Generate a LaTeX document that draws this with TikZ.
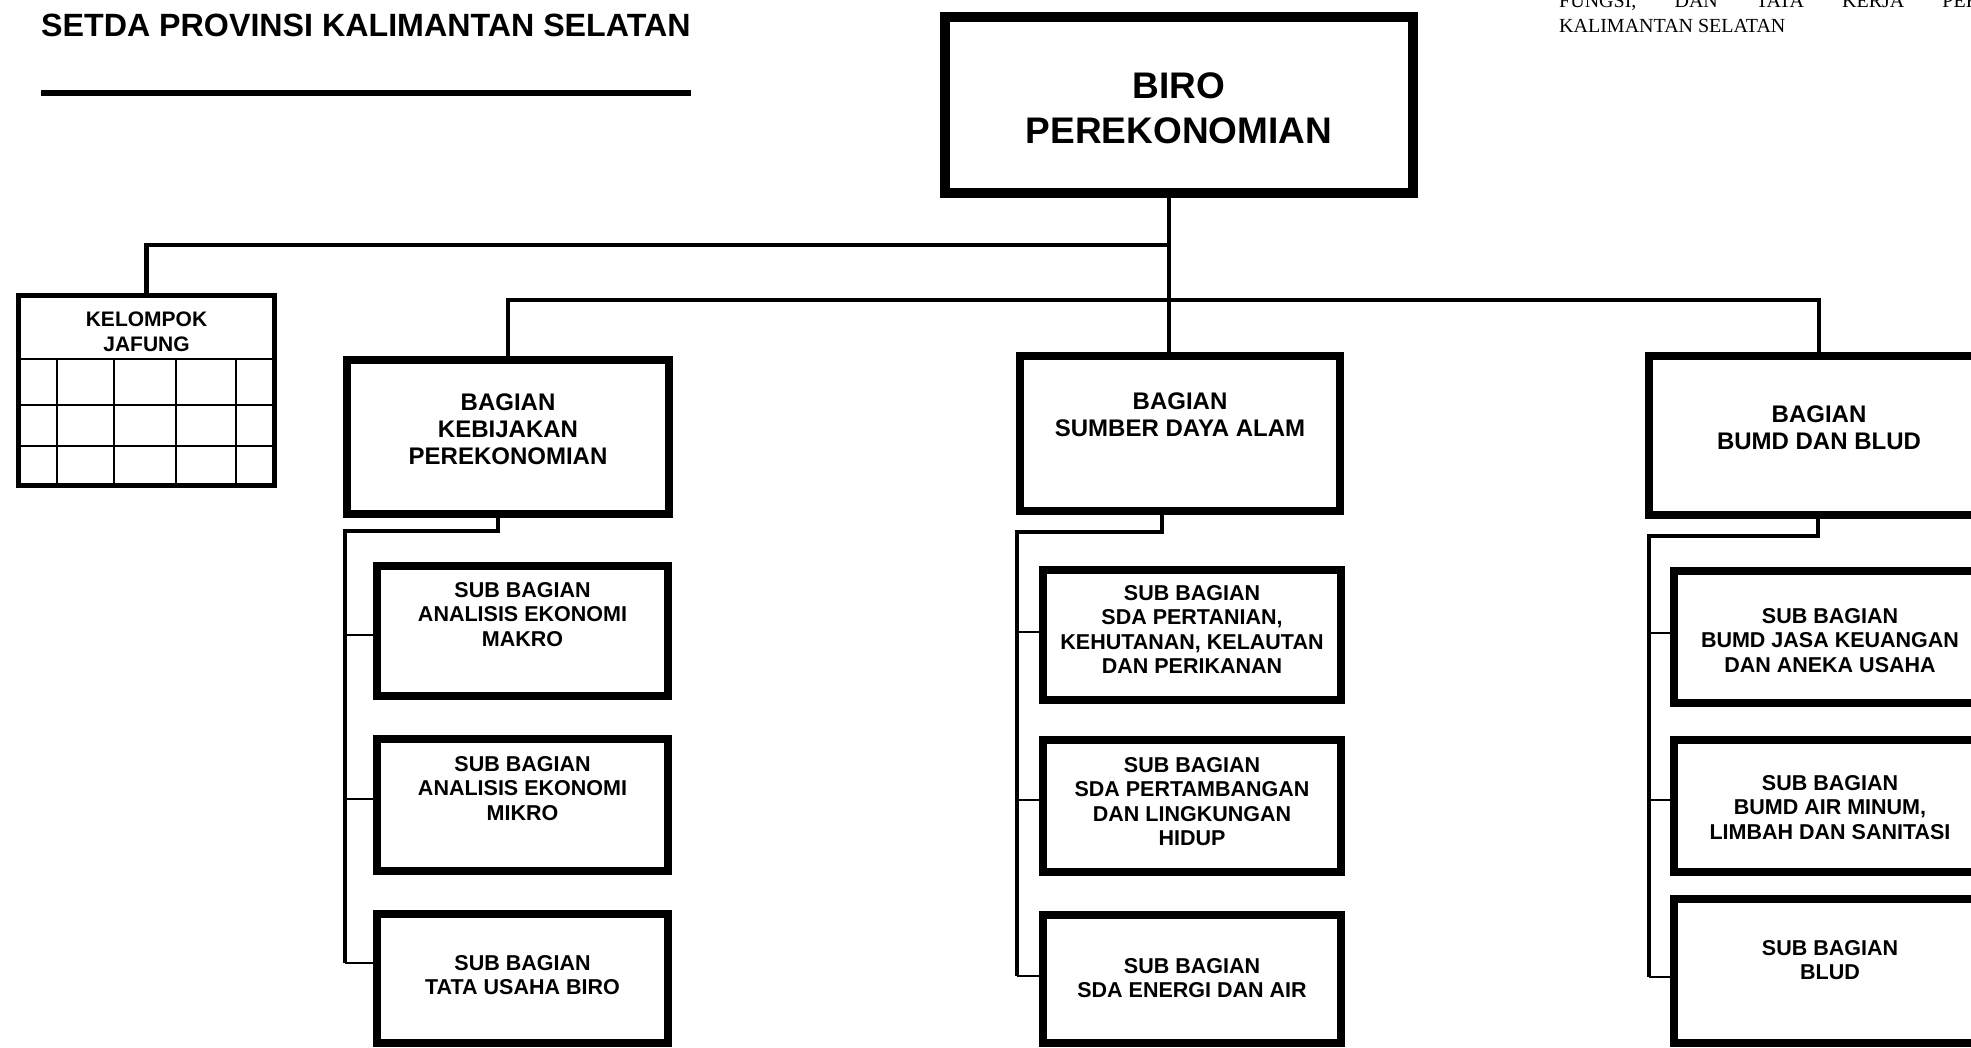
\documentclass[tikz,border=0pt]{standalone}
\usepackage{fontspec}
\setmainfont{Liberation Sans}
\newfontfamily\noteserif{Liberation Serif}
\usetikzlibrary{positioning}

\newcommand{\titlefont}{\fontsize{32.2}{36}\selectfont\bfseries}
\newcommand{\birofont}{\fontsize{37}{45}\selectfont\bfseries}
\newcommand{\bagfont}{\fontsize{24}{27}\selectfont\bfseries}
\newcommand{\subfont}{\fontsize{21.5}{24.5}\selectfont\bfseries}
\newcommand{\jffont}{\fontsize{21}{25}\selectfont\bfseries}
\newcommand{\notefont}{\fontsize{20}{25}\selectfont\noteserif}

\tikzset{
    % Biro box (top of the chart)
    birobox/.style={
        draw,
        line width=10pt,
        inner sep=0pt,
        outer sep=0pt,
        minimum width=468pt,
        minimum height=176pt
    },
    % Bagian box
    bagbox/.style={
        draw,
        line width=8pt,
        inner sep=0pt,
        outer sep=0pt
    },
    % Sub bagian box
    subbox/.style={
        draw,
        line width=8pt,
        inner sep=0pt,
        outer sep=0pt
    },
    % Jafung box (with the grid)
    jfbox/.style={
        draw,
        line width=5pt,
        inner sep=0pt,
        outer sep=0pt,
        minimum width=256pt,
        minimum height=190pt
    },
    % Texts inside the boxes
    boxtext/.style={
        align=center,
        inner sep=0pt,
        outer sep=0pt
    },
    % Lines
    busline/.style={line width=4.5pt},
    trunk/.style={line width=4.5pt},
    tick/.style={line width=2.5pt},
    gridline/.style={line width=2pt}
}

\begin{document}
\begin{tikzpicture}[x=1pt, y=-1pt]

    \useasboundingbox (0,0) rectangle (1971,1048);
    \clip (0,0) rectangle (1971,1048);
    \fill[white] (0,0) rectangle (1971,1048);

    % ==========================================
    % HEADER
    % ==========================================

    \node[anchor=base west, inner sep=0pt, font=\titlefont] (title) at (41,37) {SETDA PROVINSI KALIMANTAN SELATAN};
    \coordinate (rule) at (0,93);
    \draw[line width=6pt] (title.west |- rule) -- (title.east |- rule);

    \node[anchor=base west, inner sep=0pt, font=\notefont] (note1) at (1559,8) {\makebox[420pt][s]{FUNGSI, DAN TATA KERJA PER}};
    \node[anchor=base west, inner sep=0pt, font=\notefont] (note2) at (1559,33) {KALIMANTAN SELATAN};

    % ==========================================
    % BIRO AND BAGIAN
    % ==========================================

    \node[birobox] (biro) at (1179,105) {};
    \node[boxtext, font=\birofont, below=56pt of biro.north] (birot) {BIRO\\PEREKONOMIAN};

    % Kelompok jafung
    \node[jfbox] (jf) at (146.5,390.5) {};
    \node[boxtext, font=\jffont, below=16pt of jf.north] (jft) {KELOMPOK\\JAFUNG};
    \foreach \y in {359,405,446}
        \draw[gridline] (jf.west |- 0,\y) -- (jf.east |- 0,\y);
    \foreach \x in {57,114,176,236}
        \draw[gridline] (\x,359) -- (\x,0 |- jf.south);

    % Bagian
    \node[bagbox, minimum width=322pt, minimum height=154pt] (kb) at (508,437) {};
    \node[boxtext, font=\bagfont, below=33.5pt of kb.north] (kbt) {BAGIAN\\KEBIJAKAN\\PEREKONOMIAN};

    \node[bagbox, minimum width=320pt, minimum height=155pt] (sda) at (1180,433.5) {};
    \node[boxtext, font=\bagfont, below=36.5pt of sda.north] (sdat) {BAGIAN\\SUMBER DAYA ALAM};

    \node[bagbox, minimum width=340pt, minimum height=159pt] (bumd) at (1819,435.5) {};
    \node[boxtext, font=\bagfont, below=49.5pt of bumd.north] (bumdt) {BAGIAN\\BUMD DAN BLUD};

    % Lines from the biro
    \coordinate (hub) at (1169,245);
    \coordinate (row2) at (0,300);
    \draw[busline] (biro.south -| hub) -- (sda.north -| hub);
    \draw[busline] (hub) -| (jf.north);
    \draw[busline] (kb.north) -- (kb.north |- row2) -- (bumd.north |- row2) -- (bumd.north);

    % ==========================================
    % SUB BAGIAN
    % ==========================================

    % Kebijakan perekonomian
    \node[subbox, minimum width=291pt, minimum height=130pt] (ks1) at (522.5,631) {};
    \node[boxtext, font=\subfont, below=16.4pt of ks1.north] (ks1t) {SUB BAGIAN\\ANALISIS EKONOMI\\MAKRO};

    \node[subbox, minimum width=291pt, minimum height=132pt] (ks2) at (522.5,805) {};
    \node[boxtext, font=\subfont, below=17.4pt of ks2.north] (ks2t) {SUB BAGIAN\\ANALISIS EKONOMI\\MIKRO};

    \node[subbox, minimum width=291pt, minimum height=129pt] (ks3) at (522.5,978.5) {};
    \node[boxtext, font=\subfont, below=41.4pt of ks3.north] (ks3t) {SUB BAGIAN\\TATA USAHA BIRO};

    \coordinate (kbdrop) at (498,531);
    \coordinate (kbtop) at (345,531);
    \coordinate (kt1) at (345,635);
    \coordinate (kt2) at (345,799);
    \coordinate (kt3) at (345,963);
    \draw[trunk] (kb.south -| kbdrop) -- (kbdrop) -- (kbtop) -- (kt3);
    \foreach \t/\b in {kt1/ks1, kt2/ks2, kt3/ks3}
        \draw[tick] (\t) -- (\t -| \b.west);

    % Sumber daya alam
    \node[subbox, minimum width=298pt, minimum height=130pt] (ss1) at (1192,635) {};
    \node[boxtext, font=\subfont, below=15.4pt of ss1.north] (ss1t) {SUB BAGIAN\\SDA PERTANIAN,\\KEHUTANAN, KELAUTAN\\DAN PERIKANAN};

    \node[subbox, minimum width=298pt, minimum height=132pt] (ss2) at (1192,806) {};
    \node[boxtext, font=\subfont, below=17.4pt of ss2.north] (ss2t) {SUB BAGIAN\\SDA PERTAMBANGAN\\DAN LINGKUNGAN\\HIDUP};

    \node[subbox, minimum width=298pt, minimum height=128pt] (ss3) at (1192,979) {};
    \node[boxtext, font=\subfont, below=43.4pt of ss3.north] (ss3t) {SUB BAGIAN\\SDA ENERGI DAN AIR};

    \coordinate (sdadrop) at (1162,532);
    \coordinate (sdatop) at (1017,532);
    \coordinate (st1) at (1017,632);
    \coordinate (st2) at (1017,800);
    \coordinate (st3) at (1017,976);
    \draw[trunk] (sda.south -| sdadrop) -- (sdadrop) -- (sdatop) -- (st3);
    \foreach \t/\b in {st1/ss1, st2/ss2, st3/ss3}
        \draw[tick] (\t) -- (\t -| \b.west);

    % BUMD dan BLUD
    \node[subbox, minimum width=312pt, minimum height=132pt] (bs1) at (1830,637) {};
    \node[boxtext, font=\subfont, below=37.4pt of bs1.north] (bs1t) {SUB BAGIAN\\BUMD JASA KEUANGAN\\DAN ANEKA USAHA};

    \node[subbox, minimum width=312pt, minimum height=132pt] (bs2) at (1830,806) {};
    \node[boxtext, font=\subfont, below=35.4pt of bs2.north] (bs2t) {SUB BAGIAN\\BUMD AIR MINUM,\\LIMBAH DAN SANITASI};

    \node[subbox, minimum width=312pt, minimum height=144pt] (bs3) at (1830,971) {};
    \node[boxtext, font=\subfont, below=41.4pt of bs3.north] (bs3t) {SUB BAGIAN\\BLUD};

    \coordinate (bumddrop) at (1818,536);
    \coordinate (bumdtop) at (1649,536);
    \coordinate (bt1) at (1649,633);
    \coordinate (bt2) at (1649,800);
    \coordinate (bt3) at (1649,977);
    \draw[trunk] (bumd.south -| bumddrop) -- (bumddrop) -- (bumdtop) -- (bt3);
    \foreach \t/\b in {bt1/bs1, bt2/bs2, bt3/bs3}
        \draw[tick] (\t) -- (\t -| \b.west);

\end{tikzpicture}
\end{document}
